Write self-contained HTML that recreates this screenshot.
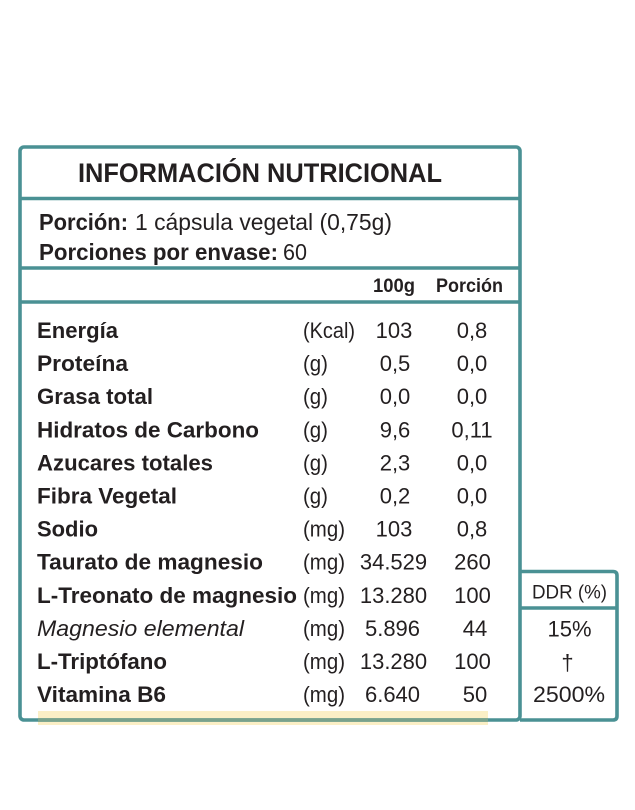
<!DOCTYPE html>
<html>
<head>
<meta charset="utf-8">
<style>
html,body{margin:0;padding:0;background:#fff;}
svg{display:block;}
text{font-family:"Liberation Sans", sans-serif; fill:#231f20;}
.b{font-weight:bold;}
.r{font-weight:normal;}
</style>
</head>
<body>
<svg width="635" height="810" viewBox="0 0 635 810" xmlns="http://www.w3.org/2000/svg">
<rect x="0" y="0" width="635" height="810" fill="#fff"/>

<!-- yellow highlight bar -->
<rect x="38" y="711" width="450" height="14" fill="#fbefc6"/>

<!-- main box -->
<rect x="20" y="147" width="500" height="573" rx="4" ry="4" fill="none" stroke="#4a9194" stroke-width="3.6"/>
<!-- horizontal separators -->
<line x1="20" y1="198.5" x2="520" y2="198.5" stroke="#4a9194" stroke-width="3.4"/>
<line x1="20" y1="268" x2="520" y2="268" stroke="#4a9194" stroke-width="3.4"/>
<line x1="20" y1="302" x2="520" y2="302" stroke="#4a9194" stroke-width="3.6"/>

<!-- DDR box -->
<path d="M520 571.5 L613 571.5 Q617 571.5 617 575.5 L617 716 Q617 720 613 720 L520 720" fill="none" stroke="#4a9194" stroke-width="3.6"/>
<line x1="520" y1="608" x2="617" y2="608" stroke="#4a9194" stroke-width="3.6"/>

<!-- overlap of yellow bar with bottom border -->
<rect x="38" y="718.2" width="450" height="3.6" fill="#79a28c"/>

<!-- Title -->
<text x="78" y="182" class="b" font-size="26.5" textLength="364" lengthAdjust="spacingAndGlyphs">INFORMACIÓN  NUTRICIONAL</text>

<!-- Portion -->
<text x="39" y="230" class="b" font-size="23.5" textLength="89" lengthAdjust="spacingAndGlyphs">Porción:</text>
<text x="135" y="230" class="r" font-size="23.5" textLength="257" lengthAdjust="spacingAndGlyphs">1 cápsula vegetal (0,75g)</text>
<text x="39" y="260" class="b" font-size="23.5" textLength="239" lengthAdjust="spacingAndGlyphs">Porciones por envase:</text>
<text x="283" y="260" class="r" font-size="23.5" textLength="24" lengthAdjust="spacingAndGlyphs">60</text>

<!-- header -->
<text x="373" y="292" class="b" font-size="19.5" textLength="42" lengthAdjust="spacingAndGlyphs">100g</text>
<text x="436" y="292" class="b" font-size="19.5" textLength="67" lengthAdjust="spacingAndGlyphs">Porción</text>

<!-- rows -->
<g font-size="22">
<text x="37" y="338" class="b" textLength="81" lengthAdjust="spacingAndGlyphs">Energía</text>
<text x="303" y="338" class="r" textLength="52" lengthAdjust="spacingAndGlyphs">(Kcal)</text>
<text x="394" y="338" class="r" text-anchor="middle">103</text>
<text x="472" y="338" class="r" text-anchor="middle">0,8</text>

<text x="37" y="371.1" class="b" textLength="91" lengthAdjust="spacingAndGlyphs">Proteína</text>
<text x="303" y="371.1" class="r" textLength="25" lengthAdjust="spacingAndGlyphs">(g)</text>
<text x="395" y="371.1" class="r" text-anchor="middle">0,5</text>
<text x="472" y="371.1" class="r" text-anchor="middle">0,0</text>

<text x="37" y="404.2" class="b" textLength="116" lengthAdjust="spacingAndGlyphs">Grasa total</text>
<text x="303" y="404.2" class="r" textLength="25" lengthAdjust="spacingAndGlyphs">(g)</text>
<text x="395" y="404.2" class="r" text-anchor="middle">0,0</text>
<text x="472" y="404.2" class="r" text-anchor="middle">0,0</text>

<text x="37" y="437.3" class="b" textLength="222" lengthAdjust="spacingAndGlyphs">Hidratos de Carbono</text>
<text x="303" y="437.3" class="r" textLength="25" lengthAdjust="spacingAndGlyphs">(g)</text>
<text x="395" y="437.3" class="r" text-anchor="middle">9,6</text>
<text x="472" y="437.3" class="r" text-anchor="middle">0,11</text>

<text x="37" y="470.4" class="b" textLength="176" lengthAdjust="spacingAndGlyphs">Azucares totales</text>
<text x="303" y="470.4" class="r" textLength="25" lengthAdjust="spacingAndGlyphs">(g)</text>
<text x="395" y="470.4" class="r" text-anchor="middle">2,3</text>
<text x="472" y="470.4" class="r" text-anchor="middle">0,0</text>

<text x="37" y="503.5" class="b" textLength="140" lengthAdjust="spacingAndGlyphs">Fibra Vegetal</text>
<text x="303" y="503.5" class="r" textLength="25" lengthAdjust="spacingAndGlyphs">(g)</text>
<text x="395" y="503.5" class="r" text-anchor="middle">0,2</text>
<text x="472" y="503.5" class="r" text-anchor="middle">0,0</text>

<text x="37" y="536.6" class="b" textLength="61" lengthAdjust="spacingAndGlyphs">Sodio</text>
<text x="303" y="536.6" class="r" textLength="42" lengthAdjust="spacingAndGlyphs">(mg)</text>
<text x="394" y="536.6" class="r" text-anchor="middle">103</text>
<text x="472" y="536.6" class="r" text-anchor="middle">0,8</text>

<text x="37" y="569.7" class="b" textLength="226" lengthAdjust="spacingAndGlyphs">Taurato de magnesio</text>
<text x="303" y="569.7" class="r" textLength="42" lengthAdjust="spacingAndGlyphs">(mg)</text>
<text x="393.5" y="569.7" class="r" text-anchor="middle">34.529</text>
<text x="472.5" y="569.7" class="r" text-anchor="middle">260</text>

<text x="37" y="602.8" class="b" textLength="260" lengthAdjust="spacingAndGlyphs">L-Treonato de magnesio</text>
<text x="303" y="602.8" class="r" textLength="42" lengthAdjust="spacingAndGlyphs">(mg)</text>
<text x="393.5" y="602.8" class="r" text-anchor="middle">13.280</text>
<text x="472.5" y="602.8" class="r" text-anchor="middle">100</text>

<text x="37" y="635.9" class="r" font-style="italic" textLength="207" lengthAdjust="spacingAndGlyphs">Magnesio elemental</text>
<text x="303" y="635.9" class="r" textLength="42" lengthAdjust="spacingAndGlyphs">(mg)</text>
<text x="392.5" y="635.9" class="r" text-anchor="middle">5.896</text>
<text x="475" y="635.9" class="r" text-anchor="middle">44</text>

<text x="37" y="669" class="b" textLength="130" lengthAdjust="spacingAndGlyphs">L-Triptófano</text>
<text x="303" y="669" class="r" textLength="42" lengthAdjust="spacingAndGlyphs">(mg)</text>
<text x="393.5" y="669" class="r" text-anchor="middle">13.280</text>
<text x="472.5" y="669" class="r" text-anchor="middle">100</text>

<text x="37" y="702.1" class="b" textLength="129" lengthAdjust="spacingAndGlyphs">Vitamina B6</text>
<text x="303" y="702.1" class="r" textLength="42" lengthAdjust="spacingAndGlyphs">(mg)</text>
<text x="392.5" y="702.1" class="r" text-anchor="middle">6.640</text>
<text x="475" y="702.1" class="r" text-anchor="middle">50</text>
</g>

<!-- DDR column -->
<text x="532" y="598.5" class="r" font-size="19.5" textLength="75" lengthAdjust="spacingAndGlyphs">DDR (%)</text>
<text x="569.5" y="636.5" class="r" font-size="22" text-anchor="middle">15%</text>
<text x="567.5" y="670" class="r" font-size="22" text-anchor="middle">†</text>
<text x="569" y="702" class="r" font-size="22.5" text-anchor="middle" textLength="72" lengthAdjust="spacingAndGlyphs">2500%</text>
</svg>
</body>
</html>
